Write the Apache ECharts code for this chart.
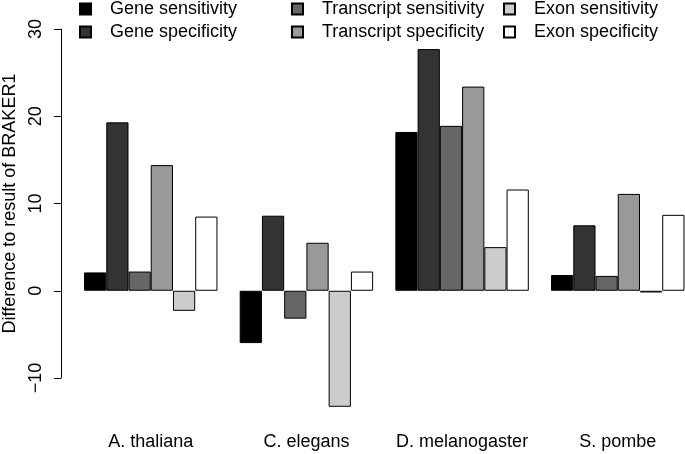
<!DOCTYPE html>
<html>
<head>
<meta charset="utf-8">
<script src="https://cdn.jsdelivr.net/npm/echarts@6/dist/echarts.min.js"></script>
<style>
html,body{margin:0;padding:0;background:#fff;}
#chart{width:685px;height:454px;}
</style>
</head>
<body>
<div id="chart"></div>
<script>
var categories = ['A. thaliana', 'C. elegans', 'D. melanogaster', 'S. pombe'];
var seriesNames = ['Gene sensitivity', 'Gene specificity', 'Transcript sensitivity', 'Transcript specificity', 'Exon sensitivity', 'Exon specificity'];
var geneSensitivity = [2.1, -6.0, 18.2, 1.8];
var geneSpecificity = [19.3, 8.6, 27.7, 7.5];
var transcriptSensitivity = [2.2, -3.2, 18.9, 1.7];
var transcriptSpecificity = [14.4, 5.5, 23.4, 11.1];
var exonSensitivity = [-2.3, -13.3, 5.0, -0.2];
var exonSpecificity = [8.5, 2.2, 11.6, 8.7];
var yTicks = [-10, 0, 10, 20, 30];

var colors = ['#000000', '#333333', '#666666', '#999999', '#cccccc', '#ffffff'];
var values = [geneSensitivity, geneSpecificity, transcriptSensitivity, transcriptSpecificity, exonSensitivity, exonSpecificity];
var FONT = '"Liberation Sans", Arial, Helvetica, sans-serif';

var chart = echarts.init(document.getElementById('chart'), null, {renderer: 'canvas'});

function mkLegend(left, names) {
  return {
    orient: 'vertical',
    left: left,
    top: 0,
    padding: 0,
    itemGap: 5,
    itemWidth: 11,
    itemHeight: 11,
    icon: 'rect',
    selectedMode: false,
    data: names,
    textStyle: {fontFamily: FONT, fontSize: 18, color: '#000', padding: [0, 0, 0, 14]}
  };
}

var series = seriesNames.map(function (n, i) {
  return {
    name: n,
    type: 'bar',
    data: values[i],
    clip: false,
    barGap: '0%',
    barCategoryGap: (100 / 7) + '%',
    itemStyle: {color: colors[i], borderColor: '#000', borderWidth: 1},
    emphasis: {disabled: true}
  };
});

chart.setOption({
  animation: false,
  textStyle: {fontFamily: FONT},
  legend: [
    mkLegend(79, [seriesNames[0], seriesNames[1]]),
    mkLegend(291, [seriesNames[2], seriesNames[3]]),
    mkLegend(503, [seriesNames[4], seriesNames[5]])
  ],
  grid: {left: 72.9, right: -10.6, top: 29, bottom: 76, containLabel: false, outerBoundsMode: 'none'},
  xAxis: {
    type: 'category',
    data: categories,
    axisLine: {show: false, onZero: false},
    axisTick: {show: false},
    axisLabel: {fontFamily: FONT, fontSize: 18, color: '#000', margin: 55, interval: 0}
  },
  yAxis: {
    type: 'value',
    min: yTicks[0],
    max: yTicks[yTicks.length - 1],
    interval: 10,
    offset: 12,
    name: 'Difference to result of BRAKER1',
    nameLocation: 'middle',
    nameGap: 42,
    nameTextStyle: {fontFamily: FONT, fontSize: 18, color: '#000'},
    axisLine: {show: true, lineStyle: {color: '#000', width: 1}},
    axisTick: {show: true, length: 7, lineStyle: {color: '#000', width: 1}},
    axisLabel: {
      fontFamily: FONT, fontSize: 18, color: '#000', rotate: 90, margin: 16,
      formatter: function (v) { return String(v).replace('-', '\u2212'); }
    },
    splitLine: {show: false}
  },
  series: series
});
</script>
</body>
</html>
